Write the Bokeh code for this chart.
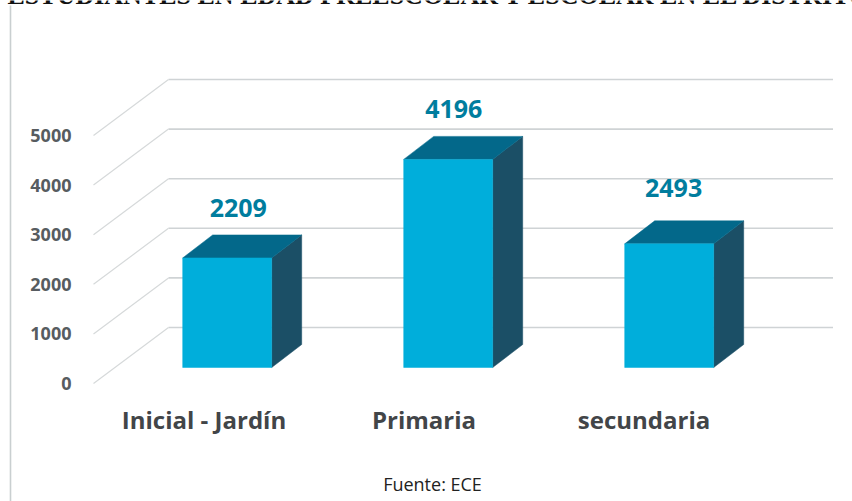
from bokeh.embed import file_html
from bokeh.resources import INLINE
from bokeh.plotting import figure
from bokeh.models import (ColumnDataSource, LinearAxis, FixedTicker, Range1d)
from bokeh.core.properties import value

title_text = "ESTUDIANTES EN EDAD PREESCOLAR Y ESCOLAR EN EL DISTRITO"
source_text = "Fuente: ECE"
categories = ["Inicial - Jardín", "Primaria", "secundaria"]
students = [2209, 4196, 2493]
y_ticks = [0, 1000, 2000, 3000, 4000, 5000]
label_nudge_x = [0.05, 0.025, 0.02]
label_nudge_y = [0, 0, 120]

W, H = 852, 501
PX_X = 221.0          # pixels per category
PX_Y = 0.0496         # pixels per student
X0, Y0 = 226.7, 367.0 # pixel position of first category, zero level
def dx(px): return px / PX_X
def dy(px): return px / PX_Y
def fx(px): return (px - X0) / PX_X
def fy(px): return (Y0 - px) / PX_Y

BAR_W = dx(89.0)
DEPTH_X, DEPTH_Y = dx(30.0), dy(23.0)
BACK_X, RIGHT_X, FRONT_X = fx(168), fx(832.5), fx(93)
BACK_DY, FRONT_DY = dy(40), dy(-16)

p = figure(width=W, height=H, output_backend="svg", toolbar_location=None,
           x_range=Range1d(fx(0), fx(W)), y_range=Range1d(fy(H), fy(0)),
           x_axis_location=None, y_axis_location=None,
           min_border=0, min_border_left=0, min_border_right=0,
           min_border_top=0, min_border_bottom=0,
           outline_line_color=None, background_fill_color="white", border_fill_color="white")
p.xgrid.visible = False
p.ygrid.visible = False

p.extra_y_ranges = {"front": Range1d(fy(H) - dy(-16) + 0, fy(0) - dy(-16))}
p.extra_x_ranges = {"cats": Range1d((0 - 203.5) / 220.0, (W - 203.5) / 220.0)}

# page border
p.line(x=[fx(10), fx(10)], y=[fy(5), fy(H)], line_color="#c9cfd0", line_width=1.6)

# gridlines
GRID = "#cfd3d5"
p.multi_line(xs=[[BACK_X, RIGHT_X] for _ in y_ticks],
             ys=[[t + BACK_DY, t + BACK_DY] for t in y_ticks],
             line_color=GRID, line_width=1.6)
p.multi_line(xs=[[FRONT_X, BACK_X] for _ in y_ticks],
             ys=[[t + FRONT_DY, t + BACK_DY] for t in y_ticks],
             line_color="#d6d9da", line_width=1.2)

# bars
idx = list(range(len(students)))
L = [i - BAR_W / 2 for i in idx]
R = [i + BAR_W / 2 for i in idx]
p.patches(xs=[[r, r + DEPTH_X, r + DEPTH_X, r] for r in R],
          ys=[[0, DEPTH_Y, v + DEPTH_Y, v] for v in students],
          fill_color="#1b4f66", line_color="#1b4f66", line_width=0.5)
p.patches(xs=[[l, l + DEPTH_X, r + DEPTH_X, r] for l, r in zip(L, R)],
          ys=[[v, v + DEPTH_Y, v + DEPTH_Y, v] for v in students],
          fill_color="#03688a", line_color="#03688a", line_width=0.5)
p.patches(xs=[[l, r, r, l] for l, r in zip(L, R)],
          ys=[[0, 0, v, v] for v in students],
          fill_color="#00aedb", line_color="#00aedb", line_width=0.5)

# value labels
src = ColumnDataSource(dict(
    x=[i + n for i, n in zip(idx, label_nudge_x)],
    y=[v + DEPTH_Y + dy(27) + n for v, n in zip(students, label_nudge_y)],
    t=[str(v) for v in students]))
p.text(x="x", y="y", text="t", source=src, text_align="center", text_baseline="middle",
       text_font=value("Open Sans"), text_font_style="bold", text_font_size="25px", text_color="#007d9e")

# axes
ya = LinearAxis(y_range_name="front", ticker=FixedTicker(ticks=y_ticks),
                fixed_location=fx(82), axis_line_color=None,
                major_tick_line_color=None, minor_tick_line_color=None,
                major_tick_in=0, major_tick_out=0, major_label_standoff=11,
                major_label_text_font="Open Sans", major_label_text_font_size="18px",
                major_label_text_font_style="bold", major_label_text_color="#575c60")
p.add_layout(ya, "left")
xa = LinearAxis(x_range_name="cats", ticker=FixedTicker(ticks=idx),
                major_label_overrides={i: c for i, c in zip(idx, categories)},
                fixed_location=fy(399), axis_line_color=None,
                major_tick_line_color=None, minor_tick_line_color=None,
                major_tick_in=0, major_tick_out=0, major_label_standoff=3,
                major_label_text_font="Open Sans", major_label_text_font_size="24px",
                major_label_text_font_style="bold", major_label_text_color="#424548")
p.add_layout(xa, "below")

# title and source
p.text(x=[fx(7)], y=[fy(-5)], text=[title_text], text_align="left", text_baseline="alphabetic",
       text_font=value("Liberation Serif"), text_font_style="bold", text_font_size="26px", text_color="#111111")
p.text(x=[fx(432)], y=[fy(483)], text=[source_text], text_align="center", text_baseline="middle",
       text_font=value("Open Sans"), text_font_size="18px", text_color="#222222")

open("out.html", "w").write(file_html(p, INLINE))
